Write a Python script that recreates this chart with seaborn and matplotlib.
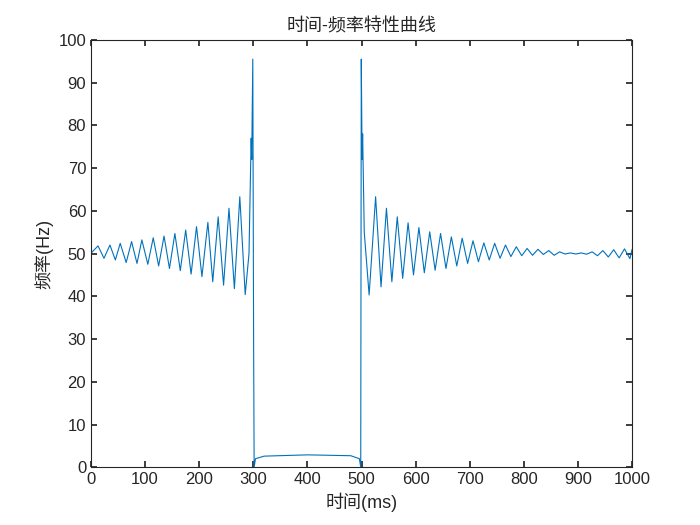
import matplotlib
matplotlib.use("Agg")
import matplotlib.pyplot as plt
import seaborn as sns
import pandas as pd

sns.set_theme(style="white")
plt.rcParams['font.family'] = ['Liberation Sans', 'Noto Sans CJK SC']

# extrema (time ms, frequency Hz)
t_pre = [0, 13, 24, 35, 45, 54, 65, 75, 85, 94, 105, 115, 125, 135, 145, 155, 165, 175,
         185, 195, 205, 216, 225, 235, 245, 255, 265, 275, 285]
f_pre = [50.1, 51.8, 48.9, 52.0, 48.5, 52.4, 47.9, 52.8, 47.7, 53.2, 47.5, 53.7, 47.1, 54.1,
         46.5, 54.7, 46.0, 55.5, 45.2, 56.3, 44.6, 57.3, 43.4, 58.6, 42.6, 60.6, 41.8, 63.3, 40.4]
t_fault = [292, 296, 297, 299, 300.5, 301.5, 304, 320, 400, 480, 496, 498.5,
           499.5, 501, 502, 505]
f_fault = [50, 77, 72, 95.5, 30, 0, 2.0, 2.6, 2.9, 2.7, 2.0, 0,
           95.5, 72, 78, 55]
t_post = [514, 526, 536, 546, 556, 566, 576, 586, 596, 606, 616, 626, 636, 646, 656, 666,
          676, 686, 696, 706, 716, 726, 736, 746, 756, 766, 776, 786, 796, 806, 816, 826,
          836, 846, 856, 866, 876, 886, 896, 906, 916, 926, 936, 946, 956, 966, 976, 986,
          996, 1000]
f_post = [40.3, 63.3, 42.2, 60.6, 43.4, 58.6, 44.2, 57.2, 45.0, 56.1, 45.5, 55.1, 46.1, 54.7,
          46.5, 53.9, 47.1, 53.6, 47.7, 53.0, 48.1, 52.5, 48.5, 52.4, 48.9, 52.0, 49.3, 51.6,
          49.5, 51.2, 49.6, 51.0, 49.8, 50.7, 49.6, 50.4, 49.9, 50.15, 49.9, 50.15, 49.85, 50.4,
          49.5, 50.7, 49.2, 50.9, 49.0, 51.1, 48.8, 51.0]

df = pd.DataFrame({"t": t_pre + t_fault + t_post, "f": f_pre + f_fault + f_post})

fig = plt.figure(figsize=(7, 5.25), dpi=100)
ax = fig.add_axes([0.13, 0.11, 0.773, 0.814])
sns.lineplot(data=df, x="t", y="f", ax=ax, color="#0072BD", linewidth=0.8,
             sort=False, estimator=None)
ax.set_xlim(0, 1000)
ax.set_ylim(0, 100)
ax.set_xticks(range(0, 1001, 100))
ax.set_yticks(range(0, 101, 10))
ax.tick_params(direction="in", length=4, labelsize=12, top=True, right=True,
               bottom=True, left=True, color="#262626", labelcolor="#262626")
for s in ax.spines.values():
    s.set_color("#262626")
    s.set_linewidth(0.8)
ax.set_xlabel("时间(ms)", fontsize=13, color="#262626")
ax.set_ylabel("频率(Hz)", fontsize=13, color="#262626")
ax.set_title("时间-频率特性曲线", fontsize=13, color="#262626")
fig.savefig("out.png", dpi=100)
